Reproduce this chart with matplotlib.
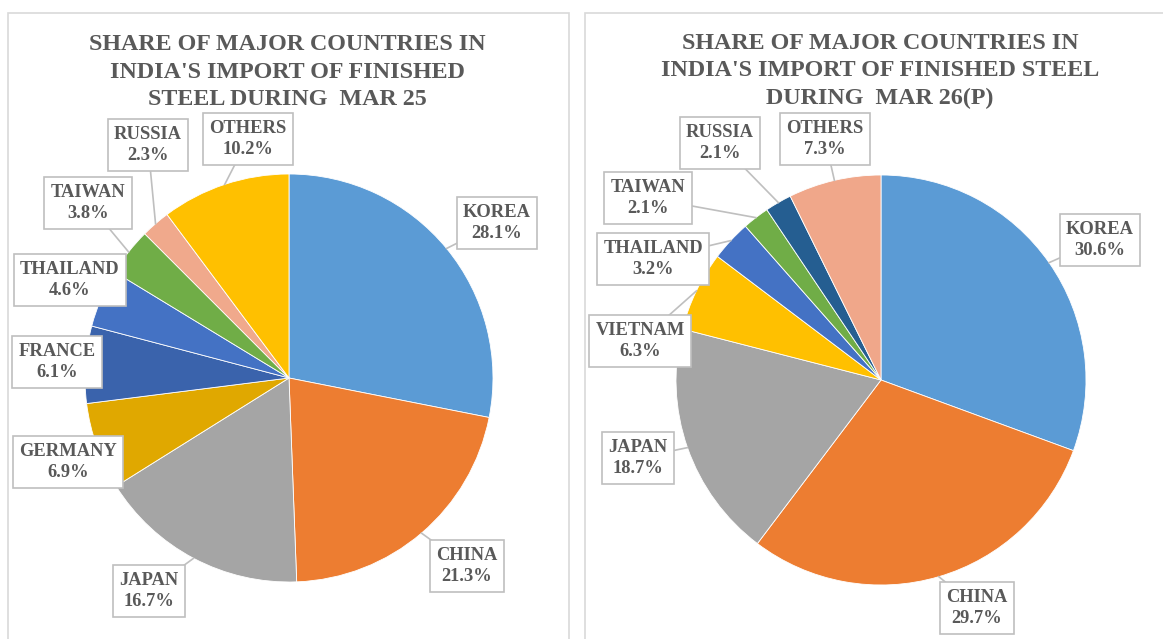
import matplotlib
matplotlib.use("Agg")
import matplotlib.pyplot as plt
from matplotlib.patches import Rectangle
import numpy as np

# ---------------- data ----------------
left_title = "SHARE OF MAJOR COUNTRIES IN\nINDIA'S IMPORT OF FINISHED\nSTEEL DURING  MAR 25"
left_labels = ["KOREA", "CHINA", "JAPAN", "GERMANY", "FRANCE", "THAILAND", "TAIWAN", "RUSSIA", "OTHERS"]
left_values = [28.1, 21.3, 16.7, 6.9, 6.1, 4.6, 3.8, 2.3, 10.2]
left_colors = ["#5B9BD5", "#ED7D31", "#A5A5A5", "#E0A800", "#3A63AC", "#4472C4", "#70AD47", "#F0A98C", "#FFC000"]

right_title = "SHARE OF MAJOR COUNTRIES IN\nINDIA'S IMPORT OF FINISHED STEEL\nDURING  MAR 26(P)"
right_labels = ["KOREA", "CHINA", "JAPAN", "VIETNAM", "THAILAND", "TAIWAN", "RUSSIA", "OTHERS"]
right_values = [30.6, 29.7, 18.7, 6.3, 3.2, 2.1, 2.1, 7.3]
right_colors = ["#5B9BD5", "#ED7D31", "#A5A5A5", "#FFC000", "#4472C4", "#70AD47", "#255E91", "#F0A78A"]

# ---------------- layout (pixels) ----------------
W, H = 1163, 639
FONT = "Liberation Serif"
TXT = "#595959"
BOXEDGE = "#BFBFBF"

fig = plt.figure(figsize=(W / 100, H / 100), dpi=100)
ax = fig.add_axes([0, 0, 1, 1])
ax.set_xlim(0, W)
ax.set_ylim(0, H)
ax.set_aspect("equal")
ax.axis("off")


def Y(y):
    return H - y


# panel borders
ax.add_patch(Rectangle((8, Y(660)), 561, 647, fill=False, ec="#D9D9D9", lw=1.2))
ax.add_patch(Rectangle((585, Y(660)), 600, 647, fill=False, ec="#D9D9D9", lw=1.2))


def draw_panel(title, tx, tys, labels, values, colors, cx, cy, r, label_pos, leaders):
    ax.text(tx, Y(tys), title, ha="center", va="center", fontsize=17.3, fontweight="bold",
            family=FONT, color=TXT, linespacing=1.38)
    wedges, _ = ax.pie(values, colors=colors, startangle=90, counterclock=False,
                       center=(cx, Y(cy)), radius=r, frame=True,
                       wedgeprops=dict(edgecolor="white", linewidth=0.6))
    for w, lab, val, (bx, by), lead in zip(wedges, labels, values, label_pos, leaders):
        if lead:
            ang = np.deg2rad((w.theta1 + w.theta2) / 2)
            px = cx + r * np.cos(ang)
            py = Y(cy) + r * np.sin(ang)
            ax.plot([bx, px], [Y(by), py], color=BOXEDGE, lw=1.2, zorder=3)
        ax.text(bx, Y(by), f"{lab}\n{val:.1f}%", ha="center", va="center", fontsize=13.3,
                fontweight="bold", family=FONT, color=TXT, linespacing=1.33, zorder=5,
                bbox=dict(boxstyle="square,pad=0.35", fc="white", ec=BOXEDGE, lw=1.2))


left_pos = [(497, 223), (467, 566), (149, 591), (68, 462), (57, 362), (70, 280), (88, 203), (148, 145), (248, 139)]
left_lead = [True, True, True, False, False, False, True, True, True]
draw_panel(left_title, 287, 72, left_labels, left_values, left_colors, 289, 378, 204, left_pos, left_lead)

right_pos = [(1100, 240), (977, 608), (638, 458), (640, 341), (653, 259), (648, 198), (720, 143), (825, 139)]
right_lead = [True, True, True, True, True, True, True, True]
draw_panel(right_title, 880, 71, right_labels, right_values, right_colors, 881, 380, 205, right_pos, right_lead)

ax.set_xlim(0, W)
ax.set_ylim(0, H)
ax.axis("off")

fig.savefig("out.png", dpi=100, facecolor="white")
